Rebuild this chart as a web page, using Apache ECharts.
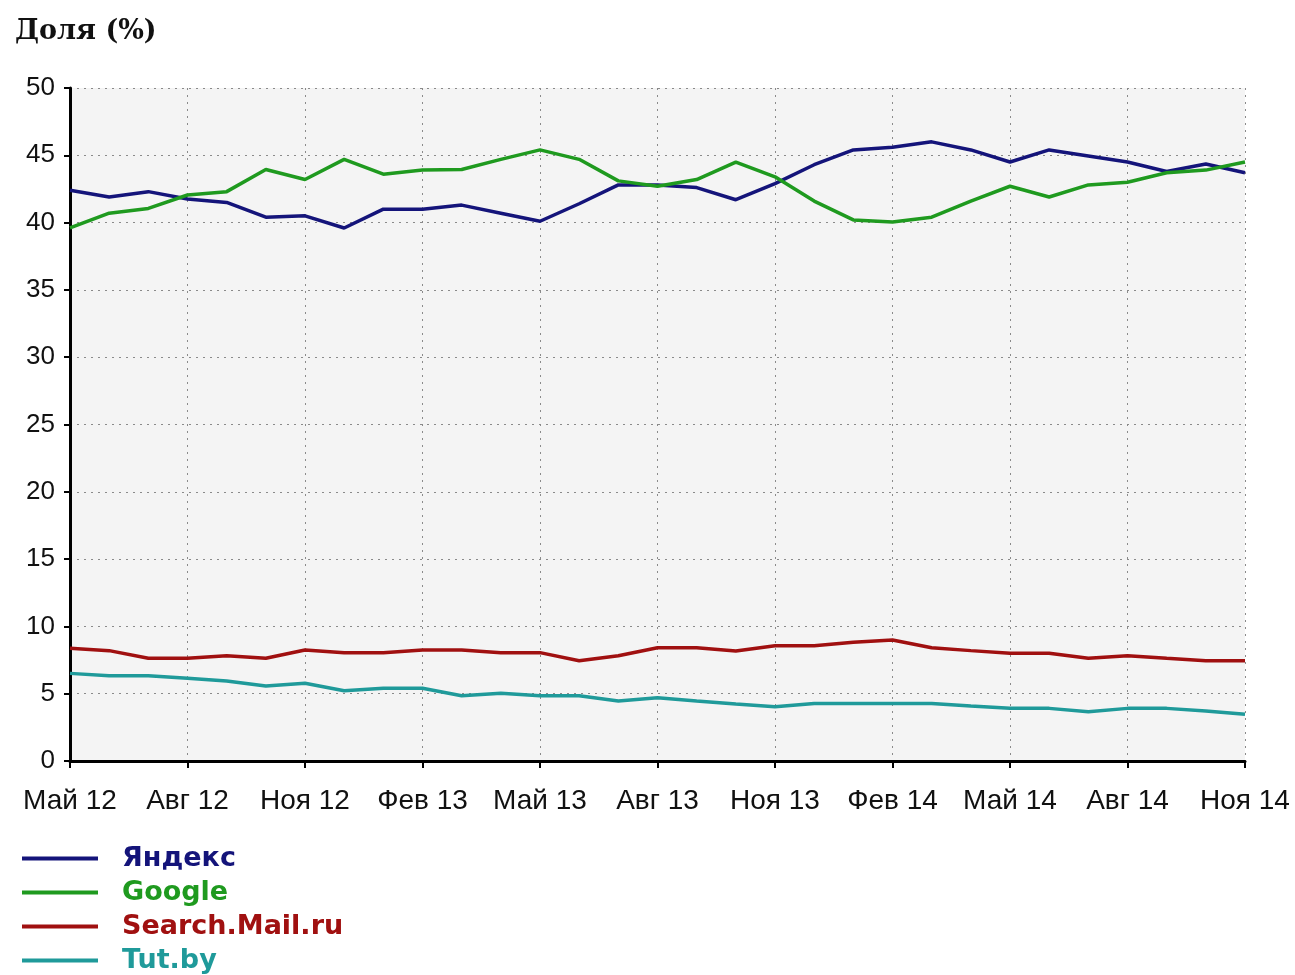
<!DOCTYPE html>
<html>
<head>
<meta charset="utf-8">
<script src="https://cdn.jsdelivr.net/npm/echarts@6/dist/echarts.min.js"></script>
<style>
html,body{margin:0;padding:0;background:#fff;}
#chart{width:1295px;height:975px;}
</style>
</head>
<body>
<div id="chart"></div>
<script>
const months = ['Май 12','Июн 12','Июл 12','Авг 12','Сен 12','Окт 12','Ноя 12','Дек 12','Янв 13','Фев 13','Мар 13','Апр 13',
  'Май 13','Июн 13','Июл 13','Авг 13','Сен 13','Окт 13','Ноя 13','Дек 13','Янв 14','Фев 14','Мар 14','Апр 14',
  'Май 14','Июн 14','Июл 14','Авг 14','Сен 14','Окт 14','Ноя 14'];
const seriesNames = ['Яндекс','Google','Search.Mail.ru','Tut.by'];
const seriesColors = ['#14147a','#1f9a1f','#a01010','#1f9a9a'];
const yandex = [42.4,41.9,42.3,41.75,41.5,40.4,40.5,39.6,41.0,41.0,41.3,40.7,40.1,41.4,42.8,42.8,42.6,41.7,42.9,44.3,45.4,45.6,46.0,45.4,44.5,45.4,44.95,44.5,43.8,44.35,43.7];
const google = [39.6,40.7,41.05,42.05,42.3,43.95,43.2,44.7,43.6,43.9,43.95,44.7,45.4,44.7,43.1,42.7,43.2,44.5,43.4,41.6,40.2,40.05,40.4,41.6,42.7,41.9,42.8,43.0,43.7,43.9,44.5];
const mail = [8.37,8.2,7.63,7.63,7.82,7.63,8.25,8.05,8.05,8.25,8.25,8.05,8.05,7.45,7.82,8.42,8.42,8.17,8.57,8.57,8.82,8.99,8.42,8.2,8.0,8.0,7.63,7.82,7.63,7.45,7.45];
const tutby = [6.51,6.34,6.34,6.14,5.94,5.57,5.77,5.22,5.40,5.40,4.85,5.03,4.85,4.85,4.46,4.70,4.46,4.23,4.03,4.28,4.28,4.28,4.28,4.09,3.91,3.91,3.66,3.91,3.91,3.71,3.47];
const values = [yandex, google, mail, tutby];

const chart = echarts.init(document.getElementById('chart'));
const gridLine = {type: [2, 5], color: '#8a8a8a', width: 1};
const option = {
  backgroundColor: '#fff',
  animation: false,
  title: {
    text: 'Доля (%)', left: 10, top: 13,
    textStyle: {fontFamily: 'DejaVu Serif', fontWeight: 'bold', fontSize: 27, color: '#111'}
  },
  grid: {left: 70, right: 50, top: 88, bottom: 214, show: true, backgroundColor: '#f4f4f4', borderWidth: 0},
  xAxis: {
    type: 'category', data: months, boundaryGap: false,
    axisLine: {lineStyle: {color: '#000', width: 3}},
    axisTick: {interval: 2, length: 7, lineStyle: {color: '#000', width: 2}},
    axisLabel: {interval: 2, fontSize: 28, margin: 26, color: '#111', fontFamily: 'Liberation Sans'},
    splitLine: {show: true, interval: 2, lineStyle: gridLine}
  },
  yAxis: {
    type: 'value', min: 0, max: 50, interval: 5,
    axisLine: {show: true, lineStyle: {color: '#000', width: 3}},
    axisTick: {show: true, length: 6, lineStyle: {color: '#000', width: 2}},
    axisLabel: {fontSize: 26, color: '#111', margin: 15, fontFamily: 'Liberation Sans'},
    splitLine: {lineStyle: gridLine}
  },
  legend: {
    orient: 'vertical', left: 22, top: 845, padding: 0, itemWidth: 76, itemHeight: 4, itemGap: 7, icon: 'rect',
    textStyle: {fontFamily: 'DejaVu Sans', fontWeight: 'bold', fontSize: 27, lineHeight: 26, padding: [0, 0, 0, 19]},
    data: seriesNames.map((n, i) => ({name: n, textStyle: {color: seriesColors[i]}}))
  },
  series: seriesNames.map((n, i) => ({
    name: n, type: 'line', data: values[i], showSymbol: false, symbol: 'none',
    color: seriesColors[i], lineStyle: {width: 3.5, color: seriesColors[i]}
  }))
};
chart.setOption(option);
</script>
</body>
</html>
